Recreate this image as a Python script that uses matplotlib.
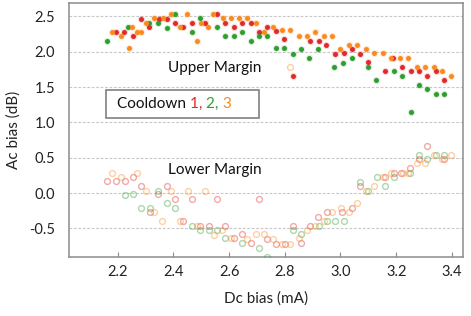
import matplotlib
matplotlib.use("Agg")
import matplotlib.pyplot as plt
from matplotlib.patches import Rectangle
from matplotlib.offsetbox import TextArea, HPacker, AnnotationBbox

plt.rcParams['font.family'] = ['Lato', 'DejaVu Sans']

# ---------------- data ----------------
# Upper margin (filled markers)
up_red_x = [2.194, 2.224, 2.254, 2.284, 2.313, 2.347, 2.376, 2.406, 2.435, 2.465, 2.513,
            2.557, 2.586, 2.618, 2.648, 2.677, 2.708, 2.737, 2.768, 2.798, 2.828, 2.890,
            2.922, 2.949, 2.979, 3.011, 3.040, 3.070, 3.100, 3.161, 3.190, 3.221, 3.252,
            3.282, 3.310, 3.342, 3.371]
up_red_y = [2.285, 2.285, 2.224, 2.470, 2.345, 2.470, 2.470, 2.405, 2.345, 2.405, 2.405,
            2.535, 2.405, 2.345, 2.405, 2.405, 2.285, 2.345, 2.300, 2.177, 1.653, 2.153,
            2.153, 2.096, 1.969, 1.978, 2.033, 1.969, 1.851, 1.728, 1.905, 1.785, 1.728,
            1.728, 1.653, 1.728, 1.593]

up_green_x = [2.163, 2.237, 2.313, 2.345, 2.377, 2.407, 2.465, 2.496, 2.557, 2.584, 2.617,
              2.647, 2.677, 2.709, 2.737, 2.769, 2.798, 2.829, 2.859, 2.887, 2.918, 2.978,
              3.009, 3.040, 3.100, 3.129, 3.191, 3.221, 3.252, 3.281, 3.311, 3.342, 3.371]
up_green_y = [2.153, 2.345, 2.405, 2.405, 2.337, 2.535, 2.285, 2.472, 2.345, 2.224, 2.224,
              2.285, 2.153, 2.224, 2.224, 2.050, 2.050, 1.969, 2.033, 1.905, 2.033, 1.785,
              1.846, 1.905, 1.778, 1.596, 1.731, 1.653, 1.152, 1.530, 1.477, 1.402, 1.402]

up_orange_x = [2.181, 2.212, 2.242, 2.253, 2.270, 2.285, 2.301, 2.331, 2.362, 2.391, 2.422,
               2.450, 2.483, 2.499, 2.523, 2.543, 2.577, 2.606, 2.635, 2.663, 2.698, 2.726,
               2.756, 2.789, 2.817, 2.850, 2.878, 2.908, 2.941, 2.969, 3.000, 3.031, 3.060,
               3.091, 3.122, 3.152, 3.183, 3.213, 3.243, 3.275, 3.305, 3.335, 3.366, 3.397]
up_orange_y = [2.285, 2.224, 2.050, 2.344, 2.285, 2.285, 2.405, 2.472, 2.472, 2.535, 2.344,
               2.535, 2.153, 2.405, 2.344, 2.535, 2.472, 2.472, 2.472, 2.472, 2.410, 2.285,
               2.344, 2.301, 2.301, 2.224, 2.224, 2.285, 2.224, 2.224, 2.033, 2.096, 2.096,
               2.033, 1.976, 1.976, 1.905, 1.905, 1.905, 1.785, 1.785, 1.785, 1.728, 1.653]

# Lower margin (hollow markers)
lo_red_x = [2.163, 2.194, 2.225, 2.256, 2.284, 2.315, 2.344, 2.376, 2.406, 2.434, 2.467,
            2.495, 2.526, 2.556, 2.587, 2.617, 2.647, 2.677, 2.708, 2.737, 2.770, 2.802,
            2.828, 2.857, 2.890, 2.920, 2.950, 3.006, 3.040, 3.070, 3.161, 3.191, 3.216,
            3.251, 3.281, 3.311, 3.371]
lo_red_y = [0.166, 0.166, 0.166, 0.222, 0.103, -0.273, -0.021, 0.103, -0.088, -0.397, -0.088,
            -0.463, -0.463, -0.088, -0.463, -0.642, -0.585, -0.712, -0.085, -0.647, -0.722, -0.722,
            -0.463, -0.712, -0.463, -0.336, -0.273, -0.273, -0.208, 0.099, 0.222, 0.288, 0.288,
            0.350, 0.477, 0.666, 0.477]

lo_green_x = [2.225, 2.254, 2.284, 2.315, 2.344, 2.376, 2.406, 2.467, 2.495, 2.526, 2.557,
              2.587, 2.647, 2.708, 2.737, 2.828, 2.857, 2.922, 2.950, 2.979, 3.012, 3.070,
              3.100, 3.130, 3.161, 3.191, 3.251, 3.281, 3.311, 3.343, 3.371]
lo_green_y = [-0.028, -0.018, -0.212, -0.212, 0.033, -0.146, -0.212, -0.467, -0.524, -0.524, -0.524,
              -0.642, -0.712, -0.772, -0.900, -0.524, -0.585, -0.463, -0.397, -0.397, -0.401, 0.160,
              0.033, 0.222, 0.099, 0.222, 0.288, 0.538, 0.477, 0.538, 0.538]

lo_orange_x = [2.179, 2.212, 2.270, 2.303, 2.331, 2.360, 2.392, 2.423, 2.453, 2.483, 2.514,
               2.546, 2.576, 2.606, 2.664, 2.697, 2.726, 2.756, 2.790, 2.817, 2.819, 2.851,
               2.878, 2.910, 2.941, 2.970, 3.001, 3.031, 3.061, 3.091, 3.122, 3.152, 3.183,
               3.223, 3.244, 3.274, 3.305, 3.336, 3.365, 3.398]
lo_orange_y = [0.288, 0.227, 0.288, 0.033, -0.273, -0.392, 0.033, -0.392, 0.035, -0.467, 0.033,
               -0.588, -0.528, -0.642, -0.652, -0.585, -0.585, -0.652, -0.722, 1.790, -0.722, -0.642,
               -0.524, -0.463, -0.397, -0.273, -0.208, -0.273, -0.146, 0.033, 0.099, 0.222, 0.288,
               0.288, 0.288, 0.418, 0.418, 0.538, 0.477, 0.538]

xticks = [2.2, 2.4, 2.6, 2.8, 3.0, 3.2, 3.4]
yticks = [-0.5, 0.0, 0.5, 1.0, 1.5, 2.0, 2.5]

RED = '#e02a2a'
GREEN = '#2f9e2f'
ORANGE = '#fb8a1c'

# ---------------- figure ----------------
fig = plt.figure(figsize=(4.71, 3.16), dpi=100)
ax = fig.add_axes([69/471, 1-257/316, 394/471, 254/316])

for xs, ys, c in [(lo_red_x, lo_red_y, RED), (lo_green_x, lo_green_y, GREEN),
                  (lo_orange_x, lo_orange_y, ORANGE)]:
    ax.plot(xs, ys, 'o', ls='none', ms=4.2, mfc='none', mec=c, mew=1.0, alpha=0.4, zorder=3)

for xs, ys, c in [(up_red_x, up_red_y, RED), (up_green_x, up_green_y, GREEN),
                  (up_orange_x, up_orange_y, ORANGE)]:
    ax.plot(xs, ys, 'o', ls='none', ms=5.2, mfc=c, mec='none', alpha=0.18, zorder=3)
    ax.plot(xs, ys, 'o', ls='none', ms=3.6, mfc=c, mec='none', zorder=4)

ax.set_xlim(2.025, 3.44)
ax.set_ylim(-0.906, 2.69)
ax.set_xticks(xticks)
ax.set_xticklabels([f'{v:.1f}' for v in xticks])
ax.set_yticks(yticks)
ax.set_yticklabels([f'{v:.1f}' for v in yticks])

ax.grid(axis='y', color='#c8c8c8', linestyle=(0, (2.5, 1.5)), linewidth=0.8)
ax.set_axisbelow(True)
for s in ax.spines.values():
    s.set_color('#8c8c8c')
    s.set_linewidth(1.1)

ax.tick_params(axis='x', direction='in', length=3.5, width=0.8, color='#8c8c8c',
               labelsize=10.5, pad=6, labelcolor='#222222')
ax.tick_params(axis='y', length=0, labelsize=10.5, pad=10, labelcolor='#222222')

ax.set_xlabel('Dc bias (mA)', fontsize=11, color='#222222', labelpad=9)
ax.set_ylabel('Ac bias (dB)', fontsize=11, color='#222222', labelpad=6)

ax.text(2.55, 1.77, 'Upper Margin', fontsize=11, ha='center', va='center', color='#111111')
ax.text(2.55, 0.32, 'Lower Margin', fontsize=11, ha='center', va='center', color='#111111')

# Cooldown box
ax.add_patch(Rectangle((0.093, 0.546), 0.39, 0.110, transform=ax.transAxes,
                       facecolor='white', edgecolor='#808080', linewidth=1.2, zorder=5))
parts = [('Cooldown ', '#111111'), ('1, ', RED), ('2, ', GREEN), ('3', ORANGE)]
boxes = [TextArea(t, textprops=dict(color=c, fontsize=11)) for t, c in parts]
pack = HPacker(children=boxes, align='baseline', pad=0, sep=0)
ab = AnnotationBbox(pack, (0.121, 0.601), xycoords='axes fraction', box_alignment=(0, 0.5),
                    frameon=False, zorder=6)
ax.add_artist(ab)

fig.savefig('out.png', dpi=100)
